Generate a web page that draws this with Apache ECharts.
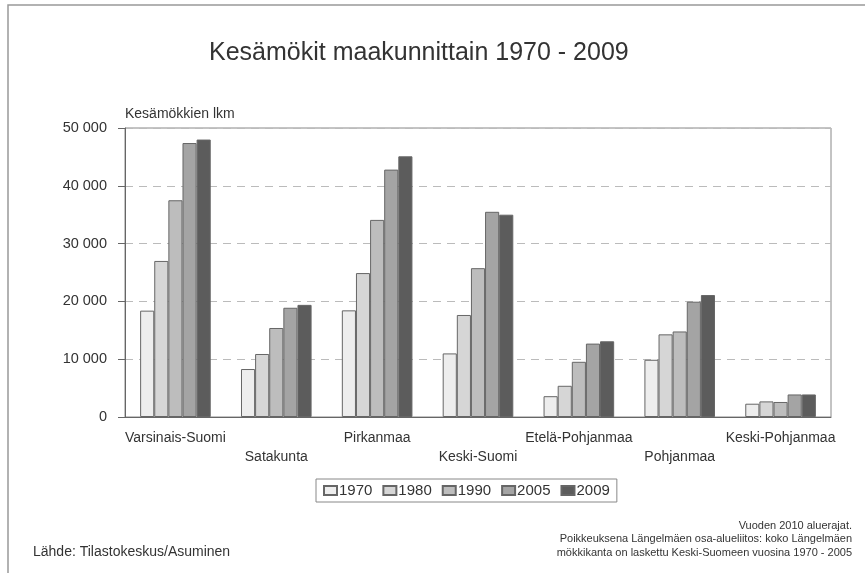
<!DOCTYPE html>
<html><head><meta charset="utf-8">
<script src="https://cdn.jsdelivr.net/npm/echarts@6/dist/echarts.min.js"></script>
<style>html,body{margin:0;padding:0;background:#fff}#c{width:865px;height:573px}</style>
</head><body><div id="c"></div>
<script>
var categories = ['Varsinais-Suomi','Satakunta','Pirkanmaa','Keski-Suomi','Etelä-Pohjanmaa','Pohjanmaa','Keski-Pohjanmaa'];
var years = ['1970','1980','1990','2005','2009'];
var v1970 = [18400, 8300, 18450, 11000, 3600, 9900, 2300];
var v1980 = [27000, 10900, 24900, 17650, 5400, 14300, 2700];
var v1990 = [37500, 15400, 34100, 25750, 9550, 14800, 2600];
var v2005 = [47400, 18900, 42800, 35500, 12700, 19950, 3900];
var v2009 = [48000, 19400, 45100, 35000, 13100, 21100, 3900];
var yTicks = [0, 10000, 20000, 30000, 40000, 50000];
var notes = ['Vuoden 2010 aluerajat.', 'Poikkeuksena Längelmäen osa-alueliitos: koko Längelmäen', 'mökkikanta on laskettu Keski-Suomeen vuosina 1970 - 2005'];
var colors = ['#ededed', '#d6d6d6', '#bdbdbd', '#a4a4a4', '#5c5c5c'];
var seriesData = [v1970, v1980, v1990, v2005, v2009];

var chart = echarts.init(document.getElementById('c'));
var font = 'Liberation Sans, Arial, sans-serif';
var graphics = [
  {type: 'rect', shape: {x: 8, y: 5, width: 900, height: 620}, style: {fill: 'none', stroke: '#999', lineWidth: 1.5}, silent: true, z: -1},
  {type: 'text', left: 33, top: 545, style: {text: 'Lähde: Tilastokeskus/Asuminen', font: '14px ' + font, fill: '#333'}}
];
notes.forEach(function (t, i) {
  graphics.push({type: 'text', right: 13, top: 520 + i * 13.5, style: {text: t, font: '11px ' + font, fill: '#333'}});
});
chart.setOption({
  backgroundColor: '#fff',
  textStyle: {fontFamily: font},
  animation: false,
  title: {
    text: 'Kesämökit maakunnittain 1970 - 2009',
    left: 204, top: 36,
    textStyle: {fontSize: 25, fontWeight: 'normal', color: '#333', fontFamily: font}
  },
  legend: {
    data: years,
    left: 316, top: 479,
    orient: 'horizontal',
    itemWidth: 13, itemHeight: 9, itemGap: 10,
    borderColor: '#888', borderWidth: 1, borderRadius: 0,
    padding: [4, 7],
    icon: 'rect',
    textStyle: {fontSize: 15, color: '#333', padding: [0, 0, 0, -3]}
  },
  grid: {left: 125, right: 34, top: 128, bottom: 156, show: true, borderColor: '#888', borderWidth: 1},
  xAxis: {
    type: 'category',
    data: categories,
    axisLine: {lineStyle: {color: '#666'}},
    axisTick: {show: false},
    axisLabel: {
      interval: 0, fontSize: 14, color: '#333', margin: 12, lineHeight: 19,
      formatter: function (v, i) { return i % 2 === 1 ? '\n' + v : v; }
    }
  },
  yAxis: {
    type: 'value',
    min: yTicks[0], max: yTicks[yTicks.length - 1], interval: 10000,
    name: 'Kesämökkien lkm',
    nameLocation: 'end',
    nameGap: 7,
    nameTextStyle: {fontSize: 14, color: '#333', align: 'left'},
    axisLine: {show: true, lineStyle: {color: '#666'}},
    axisTick: {show: true, inside: false, length: 7, lineStyle: {color: '#666'}},
    axisLabel: {
      fontSize: 14.5, color: '#333', margin: 18,
      formatter: function (v) { return String(v).replace(/\B(?=(\d{3})+(?!\d))/g, ' '); }
    },
    splitLine: {show: true, lineStyle: {color: '#bbb', type: [8, 6]}}
  },
  series: years.map(function (y, i) {
    return {
      name: y, type: 'bar', data: seriesData[i],
      barGap: '0%', barCategoryGap: '30%',
      itemStyle: {color: colors[i], borderColor: '#666', borderWidth: 1}
    };
  }),
  graphic: graphics
});
</script></body></html>
